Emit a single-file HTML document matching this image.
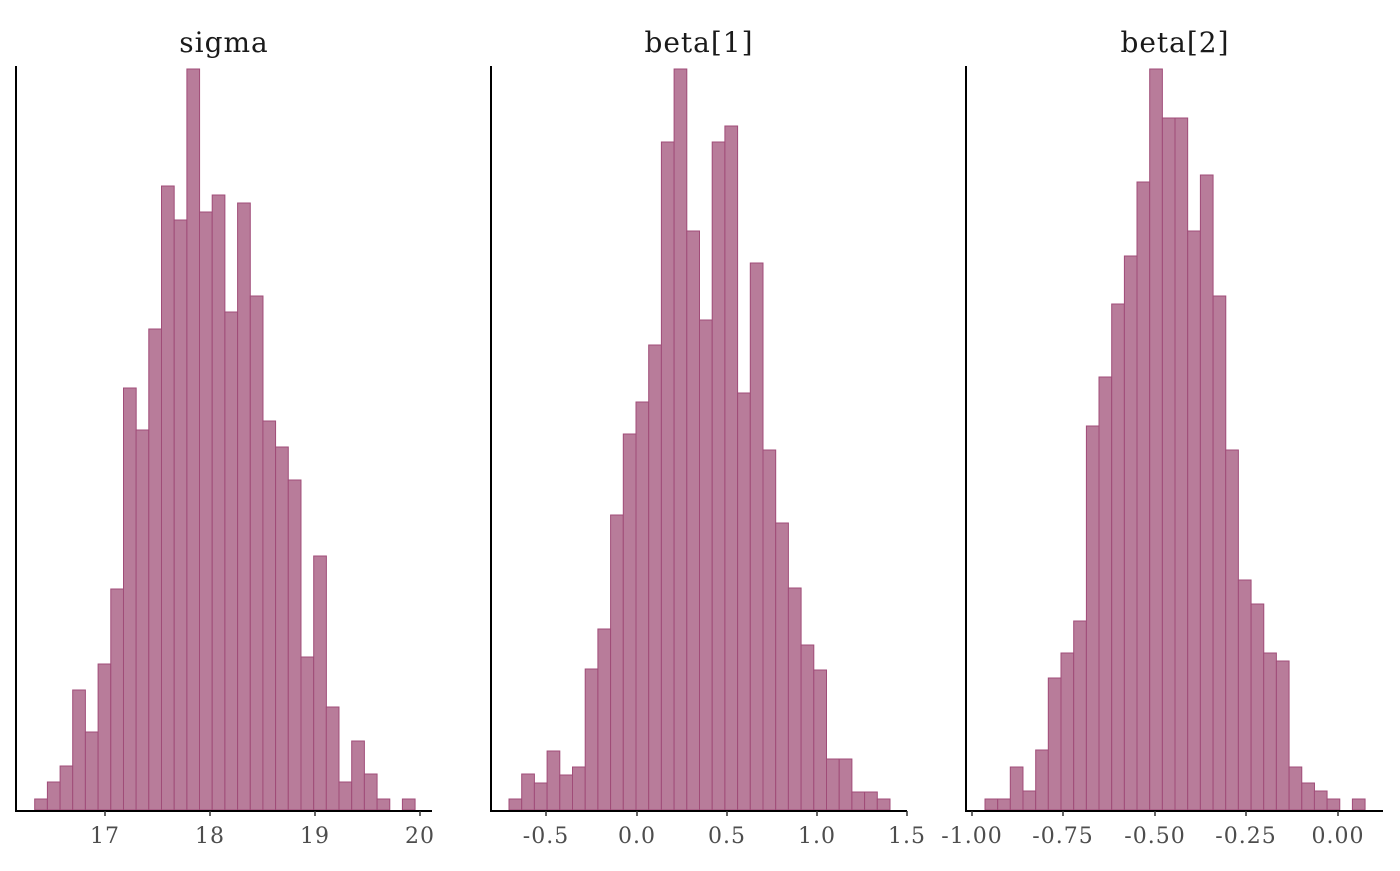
<!DOCTYPE html>
<html><head><meta charset="utf-8"><style>body{margin:0;background:#fff}</style></head><body>
<svg width="1400" height="866" viewBox="0 0 1400 866" xmlns="http://www.w3.org/2000/svg">
<g id="bars" fill="#b87c9a" stroke="#a04c78" stroke-width="1"></g>
<g stroke="#000" stroke-width="2" fill="none">
<path d="M16 66V811M15 811H432"/>
<path d="M491 66V811M490 811H907"/>
<path d="M966 66V811M965 811H1383"/>
</g>
<g stroke="#333" stroke-width="1.5">
<path d="M105 811v5M210 811v5M315 811v5M420 811v5"/>
<path d="M546 811v5M637 811v5M727 811v5M817 811v5M907 811v5"/>
<path d="M972 811v5M1063 811v5M1155 811v5M1246 811v5M1338 811v5"/>
</g>
<g font-family="DejaVu Serif, serif" font-size="22" fill="#4d4d4d" text-anchor="middle" letter-spacing="1">
<text x="105" y="843">17</text><text x="210" y="843">18</text><text x="315" y="843">19</text><text x="420" y="843">20</text>
<text x="546" y="843">-0.5</text><text x="637" y="843">0.0</text><text x="727" y="843">0.5</text><text x="817" y="843">1.0</text><text x="907" y="843">1.5</text>
<text x="972" y="843">-1.00</text><text x="1063" y="843">-0.75</text><text x="1155" y="843">-0.50</text><text x="1246" y="843">-0.25</text><text x="1338" y="843">0.00</text>
</g>
<g font-family="DejaVu Serif, serif" font-size="28" fill="#1a1a1a" text-anchor="middle" letter-spacing="1">
<text x="224" y="52">sigma</text><text x="699" y="52">beta[1]</text><text x="1175" y="52">beta[2]</text>
</g>
</svg>
<script>
var d=[[34.7,12.68,[799,782,766,690,732,664,589,388,430,329,186,220,69,212,195,312,203,296,421,447,480,657,556,707,782,741,774,799,810,799]],
[509,12.7,[799,774,783,751,775,767,669,629,515,434,402,345,142,69,231,320,142,126,393,263,450,523,588,645,670,759,759,792,792,799]],
[985,12.67,[799,799,767,791,750,678,653,621,426,377,304,256,182,69,118,118,231,175,296,450,580,604,653,661,767,783,791,799,810,799]]];
var g=document.getElementById('bars'),s='';
d.forEach(function(p){p[2].forEach(function(t,i){if(t>=809)return;s+='<rect x="'+(p[0]+i*p[1]).toFixed(1)+'" y="'+t+'" width="'+p[1]+'" height="'+(810-t)+'"/>';});});
g.innerHTML=s;
</script>
</body></html>
